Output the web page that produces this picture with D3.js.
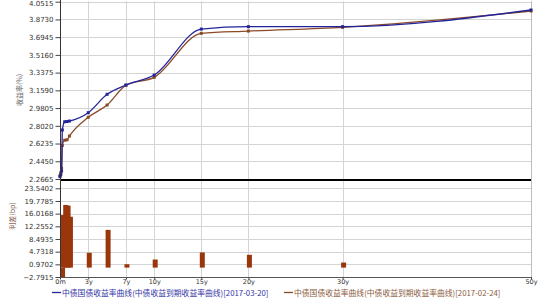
<!DOCTYPE html>
<html>
<head>
<meta charset="utf-8">
<script src="https://cdn.jsdelivr.net/npm/d3@7"></script>
<style>
html,body{margin:0;padding:0;background:#fff;}
svg{display:block;}
</style>
</head>
<body>
<svg id="chart" width="550" height="300"></svg>
<script>
// ---- data ----
const tenors = [0, 1/12, 2/12, 0.25, 0.5, 0.75, 1, 3, 5, 7, 10, 15, 20, 30, 50];
const yield20170320 = [2.290, 2.310, 2.347, 2.760, 2.843, 2.845, 2.850, 2.934, 3.119, 3.213, 3.313, 3.776, 3.800, 3.800, 3.968];
const yield20170224 = [2.300, 2.330, 2.375, 2.604, 2.657, 2.661, 2.699, 2.888, 3.011, 3.210, 3.290, 3.733, 3.756, 3.794, 3.958];
const spreadTenors = [2/12, 0.25, 0.5, 0.75, 1, 3, 5, 7, 10, 15, 20, 30];
const spreadBp = [-2.79, 15.6, 18.6, 18.4, 15.1, 4.4, 11.2, 1.0, 2.4, 4.5, 3.8, 1.5];
const xTickValues = [0, 3, 7, 10, 15, 20, 30, 50];
const xTickLabels = ["0m", "3y", "7y", "10y", "15y", "20y", "30y", "50y"];
const topTicks = [4.0515, 3.8730, 3.6945, 3.5160, 3.3375, 3.1590, 2.9805, 2.8020, 2.6235, 2.4450, 2.2665];
const botTicks = [23.5402, 19.7785, 16.0168, 12.2552, 8.4935, 4.7318, 0.9702, -2.7915];
const seriesNames = ["中债国债收益率曲线(中债收益到期收益率曲线)[2017-03-20]", "中债国债收益率曲线(中债收益到期收益率曲线)[2017-02-24]"];
const yTitleTop = "收益率(%)";
const yTitleBot = "利差(bp)";

// ---- layout ----
const svg = d3.select("#chart");
const X0 = 60, X1 = 531;
const x = d3.scaleLinear().domain([0, 50]).range([X0, X1]);
const yT = d3.scaleLinear().domain([2.2665, 4.0515]).range([179, 1.7]);
const yB = d3.scaleLinear().domain([-2.7915, 23.5402]).range([277, 188.3]);
const blue = "#24249a", brown = "#8b4a26", barColor = "#9a360c", grid = "#d4d4d4";

svg.append("rect").attr("width", 550).attr("height", 300).attr("fill", "#fff");

// horizontal grid
svg.append("g").selectAll("line").data(topTicks).join("line")
  .attr("x1", X0).attr("x2", X1)
  .attr("y1", d => Math.round(yT(d)) + 0.5).attr("y2", d => Math.round(yT(d)) + 0.5)
  .attr("stroke", grid);
svg.append("g").selectAll("line").data(botTicks).join("line")
  .attr("x1", X0).attr("x2", X1)
  .attr("y1", d => Math.round(yB(d)) + 0.5).attr("y2", d => Math.round(yB(d)) + 0.5)
  .attr("stroke", grid);
// vertical grid
svg.append("g").selectAll("line").data(xTickValues.slice(1)).join("line")
  .attr("x1", d => Math.round(x(d)) + 0.5).attr("x2", d => Math.round(x(d)) + 0.5)
  .attr("y1", 1).attr("y2", 277)
  .attr("stroke", d => d === 50 ? "#bdbdbd" : grid);

// bars (spread)
svg.append("g").selectAll("rect").data(spreadTenors.map((t, i) => [t, spreadBp[i]])).join("rect")
  .attr("x", d => x(d[0]) - 1.5)
  .attr("width", 5)
  .attr("y", d => Math.min(yB(0), yB(d[1])))
  .attr("height", d => Math.abs(yB(d[1]) - yB(0)))
  .attr("fill", barColor);

// lines
const line = d3.line().curve(d3.curveMonotoneX);
const seriesData = [yield20170224, yield20170320];
const seriesColors = [brown, blue];
seriesData.forEach((vals, k) => {
  const pts = tenors.map((t, i) => [x(t), yT(vals[i])]);
  svg.append("path").attr("d", line(pts)).attr("fill", "none")
    .attr("stroke", seriesColors[k]).attr("stroke-width", 1.3);
  svg.append("g").selectAll("rect").data(pts).join("rect")
    .attr("x", d => d[0] - 1.5).attr("y", d => d[1] - 1.5)
    .attr("width", 3).attr("height", 3).attr("fill", seriesColors[k]);
});

// separator
svg.append("line").attr("x1", X0).attr("x2", X1).attr("y1", 180).attr("y2", 180)
  .attr("stroke", "#000").attr("stroke-width", 2);

// axes
svg.append("line").attr("x1", X0 + 0.5).attr("x2", X0 + 0.5).attr("y1", 0).attr("y2", 278)
  .attr("stroke", "#333");
svg.append("line").attr("x1", X0).attr("x2", X1 + 1).attr("y1", 277.5).attr("y2", 277.5)
  .attr("stroke", "#555");

const axT = svg.append("g").attr("transform", `translate(${X0 + 0.5},0)`)
  .call(d3.axisLeft(yT).tickValues(topTicks).tickFormat(d3.format(".4f")).tickSize(5).tickPadding(2));
const axB = svg.append("g").attr("transform", `translate(${X0 + 0.5},0)`)
  .call(d3.axisLeft(yB).tickValues(botTicks).tickFormat(d3.format(".4f")).tickSize(5).tickPadding(2));
const axX = svg.append("g").attr("transform", `translate(0,277.5)`)
  .call(d3.axisBottom(x).tickValues(xTickValues).tickFormat((d, i) => xTickLabels[i]).tickSize(2).tickPadding(0));
[axT, axB, axX].forEach(g => {
  g.select(".domain").remove();
  g.selectAll(".tick line").attr("stroke", "#444");
  g.selectAll("text").attr("fill", "#333").attr("font-family", "DejaVu Sans, sans-serif").attr("font-size", 7);
});
axX.selectAll("text").attr("font-size", 6.5);
// keep the topmost label inside the picture
axT.selectAll(".tick text").filter(d => d === topTicks[0]).attr("dy", "0.32em").attr("y", 0)
  .attr("transform", "translate(0,1.8)");

// axis titles
svg.append("text").attr("transform", "translate(20,90) rotate(-90)")
  .attr("text-anchor", "middle").attr("dominant-baseline", "middle").attr("font-size", 7)
  .attr("font-family", "Noto Sans CJK SC").attr("fill", "#666").text(yTitleTop);
svg.append("text").attr("transform", "translate(13,216) rotate(-90)")
  .attr("text-anchor", "middle").attr("dominant-baseline", "middle").attr("font-size", 7)
  .attr("font-family", "Noto Sans CJK SC").attr("fill", "#8a6a5a").text(yTitleBot);

// legend
const legend = [
  {x: 52, color: blue, text: seriesNames[0], tcolor: "#3333a6"},
  {x: 284, color: brown, text: seriesNames[1], tcolor: "#8b5a3c"}
];
legend.forEach(l => {
  svg.append("line").attr("x1", l.x).attr("x2", l.x + 9).attr("y1", 292.5).attr("y2", 292.5)
    .attr("stroke", l.color).attr("stroke-width", 1.3);
  svg.append("text").attr("x", l.x + 10).attr("y", 295.5)
    .attr("font-size", 7.8).attr("font-family", "Noto Sans CJK SC")
    .attr("fill", l.tcolor).text(l.text);
});
</script>
</body>
</html>
